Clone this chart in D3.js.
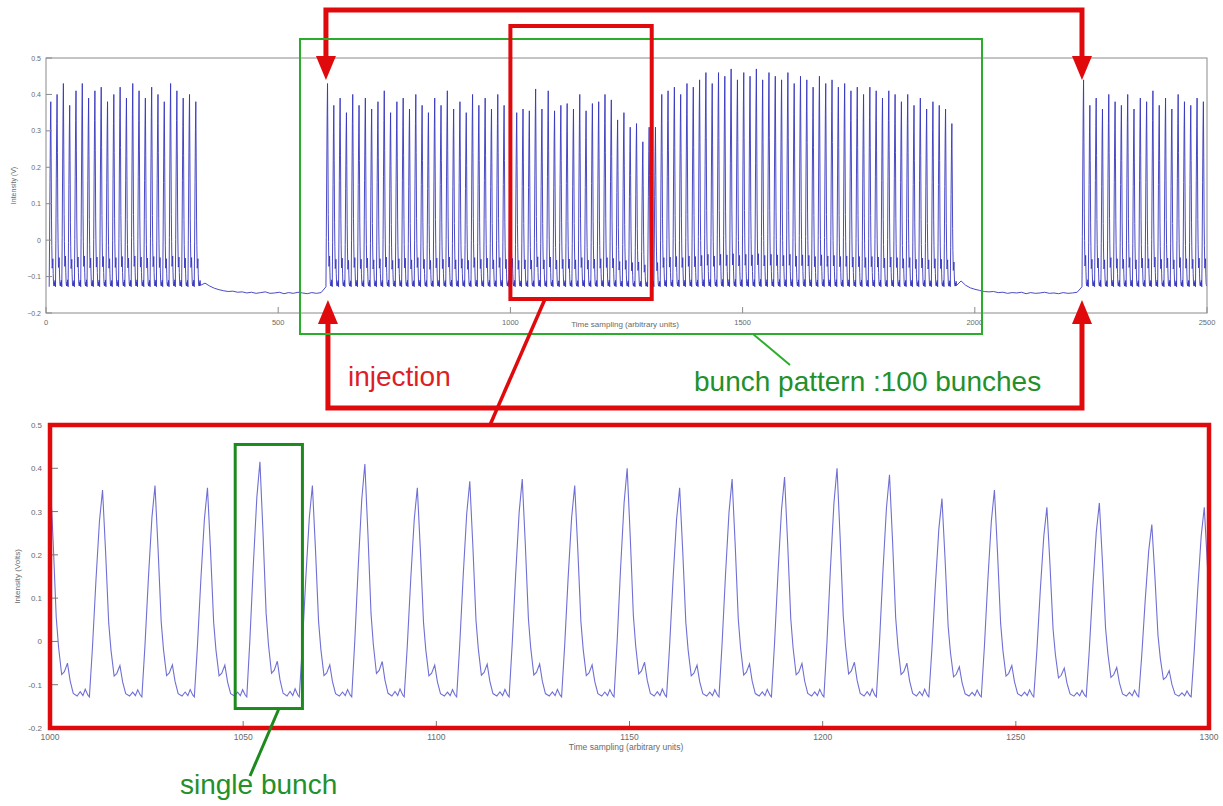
<!DOCTYPE html>
<html>
<head>
<meta charset="utf-8">
<script src="https://cdn.jsdelivr.net/npm/d3@7"></script>
<style>
  html, body { margin: 0; padding: 0; background: #fff; }
  svg { display: block; font-family: "Liberation Sans", Arial, sans-serif; }
</style>
</head>
<body>
<svg id="fig" width="1223" height="806"></svg>
<script>
// ---------------- data ----------------
const bunchSpacing = 13.58;       // samples between consecutive bunches
const turnLength = 1628;          // samples per revolution
const firstBunchSample = 606.2;   // first bunch of the recorded turn

// shape of one bunch signal: offsets from the peak (samples) and level (V) for a 0.40 V bunch
const pulseOffsets = [-3.4, -2.6, -1.7, -0.8, 0, 0.8, 1.6, 2.2, 3.0, 3.7, 4.5, 5.2, 6.0, 7.0, 7.8, 8.5, 9.1, 9.8];
const pulseLevels  = [-0.128, 0.0, 0.17, 0.32, 0.40, 0.24, 0.06, -0.01, -0.075, -0.068, -0.048, -0.09, -0.12, -0.126, -0.116, -0.125, -0.11, -0.124];
const pulseRefPeak = 0.40;
const pulseFloor = -0.128;

// peak intensity of each bunch (V)
const prevTurnPeaks = [0.38, 0.40, 0.43, 0.37, 0.41, 0.43, 0.39, 0.41, 0.42, 0.38, 0.40, 0.42,
                       0.39, 0.43, 0.41, 0.39, 0.42, 0.40, 0.38, 0.43, 0.41, 0.39, 0.40, 0.38];   // bunches 76-99
const prevTurnFirstBunch = 76;
const thisTurnPeaks = [
  0.43, 0.37, 0.39, 0.35, 0.40, 0.37, 0.39, 0.36, 0.38, 0.41, 0.35, 0.38, 0.39, 0.36, 0.40,
  0.37, 0.35, 0.39, 0.37, 0.41, 0.36, 0.38, 0.35, 0.40, 0.37, 0.39, 0.36, 0.40, 0.37,
  0.385, 0.35, 0.36, 0.355, 0.415, 0.36, 0.41, 0.355, 0.37, 0.375, 0.36, 0.40, 0.355,
  0.375, 0.38, 0.40, 0.385, 0.33, 0.35, 0.31, 0.32, 0.27, 0.31,
  0.31,
  0.40, 0.41, 0.42, 0.40, 0.43, 0.42,
  0.44, 0.46, 0.43, 0.46, 0.45, 0.47, 0.44, 0.46, 0.45, 0.47, 0.44, 0.46, 0.45,
  0.44, 0.46, 0.43, 0.45, 0.44, 0.42, 0.45, 0.43, 0.44, 0.42,
  0.43, 0.41, 0.42, 0.40, 0.42, 0.41, 0.39, 0.41, 0.40,
  0.38, 0.40, 0.37, 0.39, 0.36, 0.38, 0.37, 0.36, 0.32
];
const nextTurnPeaks = [0.44, 0.37, 0.39, 0.36, 0.40, 0.38, 0.37, 0.40, 0.36, 0.39,
                       0.38, 0.41, 0.37, 0.39, 0.36, 0.40, 0.38, 0.37, 0.39, 0.38];   // bunches 0-19

// baseline between trains, one level every gapStep samples (V)
const gapStep = 10;
const gapLevelsA = [-0.118, -0.126, -0.132, -0.136, -0.139, -0.141, -0.140, -0.143, -0.142, -0.145,
                    -0.143, -0.146, -0.144, -0.142, -0.146, -0.145, -0.143, -0.147, -0.144, -0.146,
                    -0.143, -0.145, -0.147, -0.144, -0.146, -0.144];
const gapLevelsB = [-0.112, -0.124, -0.131, -0.135, -0.138, -0.141, -0.142, -0.141, -0.144, -0.143,
                    -0.146, -0.144, -0.145, -0.143, -0.147, -0.144, -0.146, -0.145, -0.143, -0.146,
                    -0.145, -0.147, -0.144, -0.146, -0.145, -0.143];

const overviewXTicks = [0, 500, 1000, 1500, 2000, 2500];
const overviewYTicks = [-0.2, -0.1, 0, 0.1, 0.2, 0.3, 0.4, 0.5];
const detailXTicks = [1000, 1050, 1100, 1150, 1200, 1250, 1300];
const detailYTicks = [-0.2, -0.1, 0, 0.1, 0.2, 0.3, 0.4, 0.5];
const detailRange = [1000, 1300];

// ---------------- build the sampled trace ----------------
function trainPoints(turnStart, peaks, firstIndex) {
  const pts = [];
  peaks.forEach((A, i) => {
    const p = turnStart + (firstIndex + i) * bunchSpacing;
    const gain = (A - pulseFloor) / (pulseRefPeak - pulseFloor);
    pulseOffsets.forEach((o, j) => {
      pts.push([p + o, pulseFloor + (pulseLevels[j] - pulseFloor) * gain]);
    });
  });
  return pts;
}
function gapPoints(after, levels) {
  const end = after[after.length - 1][0];
  return levels.map((v, i) => [end + (i + 1) * gapStep, v]);
}
const prevTrain = trainPoints(firstBunchSample - turnLength, prevTurnPeaks, prevTurnFirstBunch);
const thisTrain = trainPoints(firstBunchSample, thisTurnPeaks, 0);
const nextTrain = trainPoints(firstBunchSample + turnLength, nextTurnPeaks, 0);
const trace = [].concat(prevTrain, gapPoints(prevTrain, gapLevelsA), thisTrain,
                        gapPoints(thisTrain, gapLevelsB), nextTrain);

// ---------------- drawing ----------------
const svg = d3.select("#fig");
const axisGrey = "#8a8a8a";
const textGrey = "#6a6a6a";
const red = "#e0090c";
const green = "#2aad2a";
const darkGreen = "#1d8a1d";

// overview panel
const ox = d3.scaleLinear().domain([0, 2500]).range([46, 1207]);
const oy = d3.scaleLinear().domain([-0.2, 0.5]).range([313, 58]);

svg.append("defs").append("clipPath").attr("id", "clipO")
  .append("rect").attr("x", ox(0)).attr("y", oy(0.5)).attr("width", ox(2500) - ox(0)).attr("height", oy(-0.2) - oy(0.5));
svg.select("defs").append("clipPath").attr("id", "clipD")
  .append("rect").attr("x", 50).attr("y", 425).attr("width", 1159).attr("height", 303);

const gO = svg.append("g");
gO.append("path")
  .attr("d", d3.line().x(d => ox(d[0])).y(d => oy(d[1]))(trace.filter(d => d[0] >= 0 && d[0] <= 2500)))
  .attr("fill", "none").attr("stroke", "#3535c0").attr("stroke-width", 0.9)
  .attr("clip-path", "url(#clipO)");

// frame of the overview axes
gO.append("rect").attr("x", ox(0)).attr("y", oy(0.5)).attr("width", ox(2500) - ox(0)).attr("height", oy(-0.2) - oy(0.5))
  .attr("fill", "none").attr("stroke", axisGrey).attr("stroke-width", 1);
overviewYTicks.forEach(t => {
  gO.append("line").attr("x1", ox(0)).attr("x2", ox(0) + 6).attr("y1", oy(t)).attr("y2", oy(t)).attr("stroke", axisGrey);
  gO.append("text").attr("x", ox(0) - 5).attr("y", oy(t) + 2.5).attr("text-anchor", "end")
    .attr("font-size", 7).attr("fill", textGrey).text(d3.format("")(t));
});
overviewXTicks.forEach(t => {
  gO.append("line").attr("x1", ox(t)).attr("x2", ox(t)).attr("y1", oy(-0.2)).attr("y2", oy(-0.2) - 6).attr("stroke", axisGrey);
  gO.append("text").attr("x", ox(t)).attr("y", oy(-0.2) + 12).attr("text-anchor", "middle")
    .attr("font-size", 7.5).attr("fill", textGrey).text(t);
});
gO.append("text").attr("x", 625).attr("y", 327).attr("text-anchor", "middle")
  .attr("font-size", 8).attr("fill", textGrey).text("Time sampling (arbitrary units)");
gO.append("text").attr("transform", `translate(16,${(oy(0.5) + oy(-0.2)) / 2}) rotate(-90)`)
  .attr("text-anchor", "middle").attr("font-size", 7).attr("fill", textGrey).text("Intensity (V)");

// detail panel
const dx = d3.scaleLinear().domain(detailRange).range([50, 1209]);
const dy = d3.scaleLinear().domain([-0.2, 0.5]).range([728, 425]);
const gD = svg.append("g");
gD.append("path")
  .attr("d", d3.line().x(d => dx(d[0])).y(d => dy(d[1]))(trace.filter(d => d[0] >= detailRange[0] - 15 && d[0] <= detailRange[1] + 15)))
  .attr("fill", "none").attr("stroke", "#6f6fd6").attr("stroke-width", 1.1)
  .attr("clip-path", "url(#clipD)");
detailYTicks.forEach(t => {
  gD.append("line").attr("x1", dx(1000)).attr("x2", dx(1000) + 8).attr("y1", dy(t)).attr("y2", dy(t)).attr("stroke", "#777");
  gD.append("text").attr("x", dx(1000) - 8).attr("y", dy(t) + 3).attr("text-anchor", "end")
    .attr("font-size", 8).attr("fill", textGrey).text(t);
});
detailXTicks.forEach(t => {
  gD.append("line").attr("x1", dx(t)).attr("x2", dx(t)).attr("y1", dy(-0.2)).attr("y2", dy(-0.2) - 7).attr("stroke", "#777");
  gD.append("text").attr("x", dx(t)).attr("y", dy(-0.2) + 12).attr("text-anchor", "middle")
    .attr("font-size", 8.5).attr("fill", textGrey).text(t);
});
gD.append("text").attr("x", 626).attr("y", 750).attr("text-anchor", "middle")
  .attr("font-size", 8.5).attr("fill", textGrey).text("Time sampling (arbitrary units)");
gD.append("text").attr("transform", `translate(20,${(dy(0.5) + dy(-0.2)) / 2}) rotate(-90)`)
  .attr("text-anchor", "middle").attr("font-size", 8).attr("fill", textGrey).text("Intensity (Volts)");

// ---------------- annotations ----------------
const ann = svg.append("g").attr("fill", "none").attr("stroke-linejoin", "miter");
const inj1 = ox(firstBunchSample - 3.4);
const inj2 = ox(firstBunchSample + turnLength - 3.4);

function arrowHead(x, tipY, dir) {   // dir = +1 points down, -1 points up
  const h = 24, w = 10;
  return `M${x},${tipY} L${x - w},${tipY - dir * h} L${x + w},${tipY - dir * h} Z`;
}
// injection arrows above the overview
ann.append("path").attr("d", `M${inj1},60 L${inj1},10 L${inj2},10 L${inj2},60`)
  .attr("stroke", red).attr("stroke-width", 5);
ann.append("path").attr("d", arrowHead(inj1, 80, 1)).attr("fill", red);
ann.append("path").attr("d", arrowHead(inj2, 80, 1)).attr("fill", red);
// injection arrows below the overview
ann.append("path").attr("d", `M${inj1 + 2},322 L${inj1 + 2},408 L${inj2},408 L${inj2},322`)
  .attr("stroke", red).attr("stroke-width", 5);
ann.append("path").attr("d", arrowHead(inj1 + 2, 300, -1)).attr("fill", red);
ann.append("path").attr("d", arrowHead(inj2, 300, -1)).attr("fill", red);

// bunch pattern box
ann.append("rect").attr("x", 300).attr("y", 39).attr("width", 682).attr("height", 295)
  .attr("stroke", green).attr("stroke-width", 2);
ann.append("line").attr("x1", 753).attr("y1", 334).attr("x2", 790).attr("y2", 365)
  .attr("stroke", green).attr("stroke-width", 2);

// zoom window and its link to the detail panel
ann.append("rect").attr("x", ox(detailRange[0])).attr("y", 26)
  .attr("width", ox(detailRange[1]) - ox(detailRange[0]) + 2).attr("height", 273)
  .attr("stroke", red).attr("stroke-width", 4);
ann.append("line").attr("x1", 545).attr("y1", 299).attr("x2", 490).attr("y2", 425)
  .attr("stroke", red).attr("stroke-width", 3.5);
ann.append("rect").attr("x", dx(detailRange[0])).attr("y", dy(0.5))
  .attr("width", dx(detailRange[1]) - dx(detailRange[0])).attr("height", dy(-0.2) - dy(0.5))
  .attr("stroke", red).attr("stroke-width", 4.5);

// single bunch box
const sb = firstBunchSample + 33 * bunchSpacing;
ann.append("rect").attr("x", dx(sb - 6.4)).attr("y", dy(0.455))
  .attr("width", dx(sb + 11) - dx(sb - 6.4)).attr("height", dy(-0.155) - dy(0.455))
  .attr("stroke", darkGreen).attr("stroke-width", 3);
ann.append("line").attr("x1", 279).attr("y1", dy(-0.155)).attr("x2", 250).attr("y2", 776)
  .attr("stroke", darkGreen).attr("stroke-width", 3);

// labels
svg.append("text").attr("x", 348).attr("y", 386).attr("font-size", 28).attr("fill", "#dc1e27").text("injection");
svg.append("text").attr("x", 694).attr("y", 391).attr("font-size", 28).attr("fill", "#23902a").text("bunch pattern :100 bunches");
svg.append("text").attr("x", 180).attr("y", 794).attr("font-size", 28).attr("fill", "#23902a").text("single bunch");
</script>
</body>
</html>
